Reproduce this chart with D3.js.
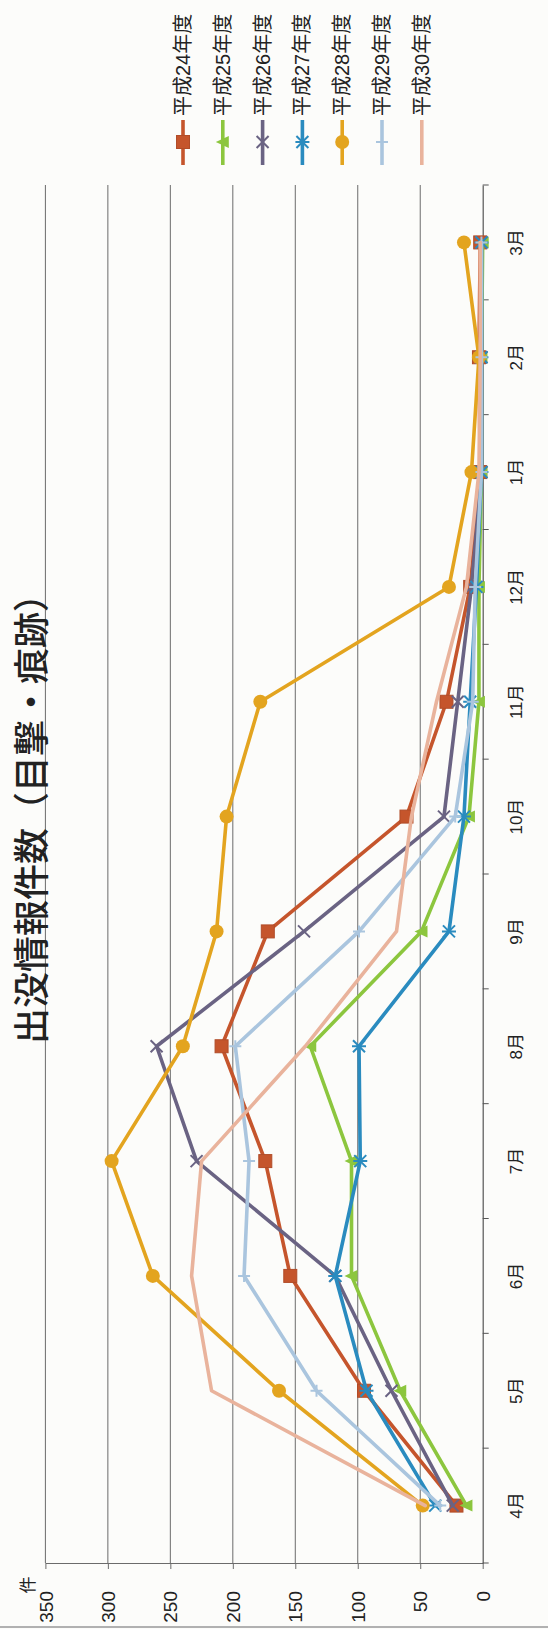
<!DOCTYPE html>
<html>
<head>
<meta charset="utf-8">
<script src="https://cdn.jsdelivr.net/npm/d3@7"></script>
<style>
  html, body { margin: 0; padding: 0; background: #fcfcfa; }
  svg { display: block; }
  text { font-family: "Liberation Sans", "Noto Sans CJK JP", sans-serif; fill: #222; }
</style>
</head>
<body>
<svg id="chart"></svg>
<script>
// months (category axis) and values per fiscal year
const months = ['4月', '5月', '6月', '7月', '8月', '9月', '10月', '11月', '12月', '1月', '2月', '3月'];
const valueTicks = [0, 50, 100, 150, 200, 250, 300, 350];
const seriesNames = ['平成24年度', '平成25年度', '平成26年度', '平成27年度', '平成28年度', '平成29年度', '平成30年度'];

const h24 = [21, 95, 154, 174, 209, 172, 61, 29, 10, 2, 3, 2];
const h25 = [13, 66, 105, 105, 138, 49, 11, 3, 3, 1, 1, 0];
const h26 = [24, 73, 118, 229, 261, 143, 31, 20, 9, 1, 1, 1];
const h27 = [38, 93, 118, 98, 99, 27, 15, 10, 5, 1, 1, 1];
const h28 = [48, 163, 264, 297, 240, 213, 205, 178, 27, 9, 3, 15];
const h29 = [34, 133, 191, 187, 198, 99, 22, 8, 6, 1, 1, 1];
const h30 = [46, 217, 233, 225, 142, 69, 57, 37, 13, 3, 2, 2];

const COLORS = ['#c5552c', '#8cc63e', '#6a6383', '#2a8bbf', '#e3a41f', '#aac5de', '#e9b39c'];
const MARKERS = ['square', 'triangle', 'x', 'star', 'circle', 'plus', 'none'];

const series = [h24, h25, h26, h27, h28, h29, h30].map((values, i) => ({
  name: seriesNames[i],
  values,
  color: COLORS[i],
  marker: MARKERS[i],
}));

const width = 548, height = 1629;

// the chart is printed turned 90deg: values run right-to-left, months bottom-to-top
const plot = { left: 45.4, right: 482.7, top: 185, bottom: 1563 };

const svg = d3.select('#chart')
  .attr('width', width)
  .attr('height', height)
  .attr('viewBox', `0 0 ${width} ${height}`);

svg.append('rect').attr('width', width).attr('height', height).attr('fill', '#fcfcfa');

const x = d3.scaleLinear().domain([0, 350]).range([plot.right, plot.left]);
const y = d3.scaleBand().domain(months).range([plot.bottom, plot.top]).padding(0);
const yc = m => y(m) + y.bandwidth() / 2;

// gridlines
svg.append('g')
  .selectAll('line')
  .data(valueTicks.filter(v => v > 0))
  .join('line')
  .attr('x1', d => x(d)).attr('x2', d => x(d))
  .attr('y1', plot.top).attr('y2', plot.bottom)
  .attr('stroke', '#6b6b6b')
  .attr('stroke-width', 1);

// value axis (bottom)
const xAxis = svg.append('g')
  .attr('transform', `translate(0,${plot.bottom})`)
  .call(d3.axisBottom(x).tickValues(valueTicks).tickSize(6).tickSizeOuter(0));
xAxis.select('.domain').attr('stroke', '#6b6b6b');
xAxis.selectAll('.tick line').attr('stroke', '#6b6b6b');
xAxis.selectAll('.tick text')
  .attr('x', 0).attr('y', 0).attr('dy', '0.35em')
  .attr('transform', 'translate(0,28) rotate(-90)')
  .attr('text-anchor', 'end')
  .attr('font-size', '19px')
  .attr('fill', '#222');

// unit label
svg.append('text')
  .attr('transform', `translate(28,${plot.bottom + 22}) rotate(-90)`)
  .attr('text-anchor', 'middle')
  .attr('dy', '0.35em')
  .attr('font-size', '17px')
  .text('件');

// category axis (right)
const yAxis = svg.append('g')
  .attr('transform', `translate(${plot.right},0)`)
  .call(d3.axisRight(y).tickSize(0).tickSizeOuter(0));
yAxis.select('.domain').attr('stroke', '#555').attr('stroke-width', 1.2);
yAxis.selectAll('.tick text')
  .attr('x', 0).attr('y', 0).attr('dy', '0.35em')
  .attr('transform', 'translate(33,0) rotate(-90)')
  .attr('text-anchor', 'middle')
  .attr('font-size', '17px')
  .attr('fill', '#222');

// ticks between categories
const edges = months.map(m => y(m)).concat([y(months[0]) + y.bandwidth()]);
yAxis.append('g')
  .selectAll('line')
  .data(edges)
  .join('line')
  .attr('x1', 0).attr('x2', 6)
  .attr('y1', d => d).attr('y2', d => d)
  .attr('stroke', '#555');

// marker shapes
function markerPath(type) {
  const s = 6;
  switch (type) {
    case 'x': return `M${-s},${-s}L${s},${s}M${-s},${s}L${s},${-s}`;
    case 'star': return `M${-s},${-s}L${s},${s}M${-s},${s}L${s},${-s}M${-s - 1},0L${s + 1},0`;
    case 'plus': return `M${-s},0L${s},0M0,${-s}L0,${s}`;
    case 'triangle': return `M${-s - 1},0L${s},${-s}L${s},${s}Z`;
    default: return null;
  }
}

function drawMarker(g, type, color) {
  if (type === 'square') {
    g.append('rect').attr('x', -6.5).attr('y', -6.5).attr('width', 13).attr('height', 13)
      .attr('fill', color).attr('stroke', d3.color(color).darker(0.3));
  } else if (type === 'circle') {
    g.append('circle').attr('r', 7).attr('fill', color);
  } else if (type === 'triangle') {
    g.append('path').attr('d', markerPath(type)).attr('fill', color);
  } else if (type !== 'none') {
    g.append('path').attr('d', markerPath(type)).attr('fill', 'none')
      .attr('stroke', color).attr('stroke-width', 2);
  }
}

const line = d3.line()
  .x(d => x(d.v))
  .y(d => yc(d.m));

const seriesG = svg.append('g');
series.forEach(s => {
  const pts = s.values.map((v, i) => ({ m: months[i], v }));
  const g = seriesG.append('g');
  g.append('path')
    .datum(pts)
    .attr('d', line)
    .attr('fill', 'none')
    .attr('stroke', s.color)
    .attr('stroke-width', 3.6)
    .attr('stroke-linejoin', 'round')
    .attr('stroke-linecap', 'round');
  pts.forEach(p => {
    const mg = g.append('g').attr('transform', `translate(${x(p.v)},${yc(p.m)})`);
    drawMarker(mg, s.marker, s.color);
  });
});

// title
svg.append('text')
  .attr('transform', 'translate(32,810) rotate(-90)')
  .attr('text-anchor', 'middle')
  .attr('dy', '0.35em')
  .attr('font-family', '"Noto Sans CJK JP", sans-serif')
  .attr('font-size', '36px')
  .attr('font-weight', '500')
  .text('出没情報件数（目撃・痕跡）');

// legend
const legend = svg.append('g');
series.forEach((s, i) => {
  const lx = 183 + i * 39.8;
  const item = legend.append('g').attr('transform', `translate(${lx},0)`);
  item.append('line')
    .attr('x1', 0).attr('x2', 0)
    .attr('y1', 120).attr('y2', 165)
    .attr('stroke', s.color).attr('stroke-width', 3.6);
  const mg = item.append('g').attr('transform', 'translate(0,142)');
  drawMarker(mg, s.marker, s.color);
  item.append('text')
    .attr('transform', 'translate(0,116) rotate(-90)')
    .attr('text-anchor', 'start')
    .attr('dy', '0.35em')
    .attr('font-size', '20px')
    .text(s.name);
});

// scanned page edge at the bottom
svg.append('line')
  .attr('x1', 0).attr('x2', width)
  .attr('y1', height - 2).attr('y2', height - 2)
  .attr('stroke', '#999').attr('stroke-width', 1.5);
</script>
</body>
</html>
